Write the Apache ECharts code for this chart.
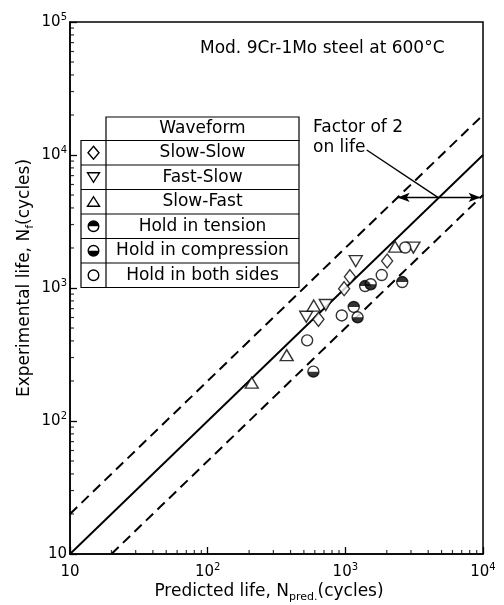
<!DOCTYPE html>
<html><head><meta charset="utf-8">
<script src="https://cdn.jsdelivr.net/npm/echarts@6/dist/echarts.min.js"></script>
<style>html,body{margin:0;padding:0;background:#fff}#c{width:504px;height:605px}</style>
</head><body><div id="c"></div>
<script>
// ---- data (predicted life, experimental life) ----
const slowSlow = [[638,582],[980,988],[1080,1216],[2012,1596]];
const fastSlow = [[520,608],[721,745],[1190,1591],[3124,2013]];
const slowFast = [[209,194],[375,313],[589,738],[2299,2044]];
const holdTension = [[1151,720],[1392,1035],[2590,1109]];
const holdCompression = [[586,235],[1228,602],[1529,1067]];
const holdBoth = [[528,404],[942,622],[1838,1252],[2723,2016]];

const lineUnity = [[10,10],[10000,10000]];
const lineUpper = [[10,20],[10000,20000]];
const lineLower = [[20,10],[10000,5000]];
const arrowFrom = [2400,4800];
const arrowTo = [9600,4800];
const leaderFrom = [1430,10900];
const leaderTo = [4700,4800];

const xMinorTicks = [20,30,40,50,60,70,80,90,200,300,400,500,600,700,800,900,2000,3000,4000,5000,6000,7000,8000,9000];
const yMinorTicks = [20,30,40,50,60,70,80,90,200,300,400,500,600,700,800,900,2000,3000,4000,5000,6000,7000,8000,9000,20000,30000,40000,50000,60000,70000,80000,90000];

const legendHeader = 'Waveform';
const legendLabels = ['Slow-Slow','Fast-Slow','Slow-Fast','Hold in tension','Hold in compression','Hold in both sides'];
const titleText = 'Mod. 9Cr-1Mo steel at 600\u00B0C';
const factorText = ['Factor of 2','on life'];
const xTitle = '{a|Predicted life, N}{s|pred.}{a|(cycles)}';
const yTitle = '{a|Experimental life, N}{s|f}{a|(cycles)}';

// ---- chart ----
const FONT = 'DejaVu Sans';
const chart = echarts.init(document.getElementById('c'), null, {renderer:'canvas'});

const tickRich = {
  b:{fontFamily:FONT,fontSize:15,color:'#000',lineHeight:20},
  s:{fontFamily:FONT,fontSize:10,color:'#000',verticalAlign:'top',lineHeight:12}
};
function tickFmt(v){
  const e = Math.round(Math.log10(v));
  return e===1 ? '{b|10}' : '{b|10}{s|'+e+'}';
}
const nameRich = {
  a:{fontFamily:FONT,fontSize:17,fill:'#000',color:'#000',lineHeight:22},
  s:{fontFamily:FONT,fontSize:11,fill:'#000',color:'#000',verticalAlign:'bottom',lineHeight:14}
};

const mk = {color:'#fff',borderColor:'#000',borderWidth:1.4};
const black = '#000';

const halfTop = 'path://M0,10 A10,10 0 0 1 20,10 Z';
const halfBottom = 'path://M0,0 A10,10 0 0 0 20,0 Z';

const option = {
  animation:false,
  backgroundColor:'#fff',
  grid:{left:70,right:21,top:22,bottom:51,show:true,borderColor:'#000',borderWidth:1.5,containLabel:false},
  xAxis:{
    type:'log', logBase:10, min:10, max:10000,
    axisLine:{lineStyle:{color:'#000',width:1.5}},
    axisTick:{inside:true,length:7,lineStyle:{color:'#000',width:1.3}},
    splitLine:{show:false},
    axisLabel:{formatter:tickFmt,rich:tickRich,margin:8}
  },
  yAxis:{
    type:'log', logBase:10, min:10, max:100000,
    axisLine:{lineStyle:{color:'#000',width:1.5}},
    axisTick:{inside:true,length:7,lineStyle:{color:'#000',width:1.3}},
    splitLine:{show:false},
    axisLabel:{formatter:tickFmt,rich:tickRich,margin:3}
  },
  series:[
    {type:'scatter',data:xMinorTicks.map(v=>[v,10]),symbol:'rect',symbolSize:[1.2,4],symbolOffset:[0,-2],itemStyle:{color:'#000'},silent:true,z:5,clip:false},
    {type:'scatter',data:yMinorTicks.map(v=>[10,v]),symbol:'rect',symbolSize:[4,1.2],symbolOffset:[2,0],itemStyle:{color:'#000'},silent:true,z:5,clip:false},
    {type:'line',data:lineUnity,symbol:'none',lineStyle:{color:'#000',width:1.9},z:2,silent:true,
      markLine:{silent:true,animation:false,label:{show:false},
        data:[
          [{coord:arrowFrom,symbol:'arrow',symbolSize:[7,12]},{coord:arrowTo,symbol:'arrow',symbolSize:[7,12]}],
          [{coord:leaderFrom,symbol:'none'},{coord:leaderTo,symbol:'none'}]
        ],
        lineStyle:{color:'#000',width:1.4,type:'solid'}}},
    {type:'line',data:lineUpper,symbol:'none',lineStyle:{color:'#000',width:2,type:[10,6]},z:2,silent:true},
    {type:'line',data:lineLower,symbol:'none',lineStyle:{color:'#000',width:2,type:[10,6]},z:2,silent:true},
    {type:'scatter',name:'Slow-Slow',data:slowSlow,symbol:'diamond',symbolSize:[11,14],itemStyle:mk,z:10},
    {type:'scatter',name:'Fast-Slow',data:fastSlow,symbol:'triangle',symbolRotate:180,symbolSize:[13,11],itemStyle:mk,z:10},
    {type:'scatter',name:'Slow-Fast',data:slowFast,symbol:'triangle',symbolSize:[13,11],itemStyle:mk,z:10},
    {type:'scatter',name:'Hold in both sides',data:holdBoth,symbol:'circle',symbolSize:11,itemStyle:mk,z:10},
    {type:'scatter',name:'Hold in tension',data:holdTension,symbol:'circle',symbolSize:11,itemStyle:mk,z:10},
    {type:'scatter',data:holdTension,symbol:halfTop,symbolSize:[11,5.5],symbolOffset:[0,-2.75],itemStyle:{color:black},z:11,silent:true},
    {type:'scatter',name:'Hold in compression',data:holdCompression,symbol:'circle',symbolSize:11,itemStyle:mk,z:10},
    {type:'scatter',data:holdCompression,symbol:halfBottom,symbolSize:[11,5.5],symbolOffset:[0,2.75],itemStyle:{color:black},z:11,silent:true}
  ],
  graphic:[]
};

const g = option.graphic;
// axis titles
g.push({type:'text',x:269,y:592,style:{text:xTitle,rich:nameRich,align:'center',verticalAlign:'middle',fill:'#000'}});
g.push({type:'text',x:25,y:278,rotation:Math.PI/2,style:{text:yTitle,rich:nameRich,align:'center',verticalAlign:'middle',fill:'#000'}});
// annotation texts
g.push({type:'text',left:200,top:40,style:{text:titleText,font:'17px "'+FONT+'"',fill:'#000'}});
g.push({type:'text',left:313,top:119,style:{text:factorText[0],font:'17px "'+FONT+'"',fill:'#000'}});
g.push({type:'text',left:313,top:139,style:{text:factorText[1],font:'17px "'+FONT+'"',fill:'#000'}});

// legend table
const tL = 81, tM = 106, tR = 299, hTop = 117, bTop = 140.5, rowH = 24.5;
const ls = {stroke:'#000',lineWidth:1.2,fill:null};
g.push({type:'rect',shape:{x:tM,y:hTop,width:tR-tM,height:bTop-hTop},style:{stroke:'#000',lineWidth:1.2,fill:'#fff'},z:20});
g.push({type:'rect',shape:{x:tL,y:bTop,width:tR-tL,height:rowH*legendLabels.length},style:{stroke:'#000',lineWidth:1.2,fill:'#fff'},z:20});
g.push({type:'line',shape:{x1:tM,y1:bTop,x2:tM,y2:bTop+rowH*legendLabels.length},style:ls,z:21});
g.push({type:'text',x:(tM+tR)/2,y:(hTop+bTop)/2,style:{text:legendHeader,font:'17px "'+FONT+'"',fill:'#000',align:'center',verticalAlign:'middle'},z:22});
legendLabels.forEach((lab,i)=>{
  const cy = bTop + rowH*(i+0.5);
  if(i>0) g.push({type:'line',shape:{x1:tL,y1:bTop+rowH*i,x2:tR,y2:bTop+rowH*i},style:ls,z:21});
  g.push({type:'text',x:(tM+tR)/2,y:cy,style:{text:lab,font:'17px "'+FONT+'"',fill:'#000',align:'center',verticalAlign:'middle'},z:22});
  const cx = (tL+tM)/2;
  const ms = {stroke:'#000',lineWidth:1.4,fill:'#fff'};
  if(i===0) g.push({type:'polygon',shape:{points:[[cx,cy-6.5],[cx+5.5,cy],[cx,cy+6.5],[cx-5.5,cy]]},style:ms,z:22});
  if(i===1) g.push({type:'polygon',shape:{points:[[cx-6,cy-4.5],[cx+6,cy-4.5],[cx,cy+5]]},style:ms,z:22});
  if(i===2) g.push({type:'polygon',shape:{points:[[cx-6,cy+4.5],[cx+6,cy+4.5],[cx,cy-5]]},style:ms,z:22});
  if(i===3||i===4||i===5) g.push({type:'circle',shape:{cx:cx,cy:cy,r:5.3},style:ms,z:22});
  if(i===3) g.push({type:'sector',shape:{cx:cx,cy:cy,r:5.3,r0:0,startAngle:Math.PI,endAngle:Math.PI*2},style:{fill:'#000'},z:23});
  if(i===4) g.push({type:'sector',shape:{cx:cx,cy:cy,r:5.3,r0:0,startAngle:0,endAngle:Math.PI},style:{fill:'#000'},z:23});
});

chart.setOption(option);
</script>
</body></html>
